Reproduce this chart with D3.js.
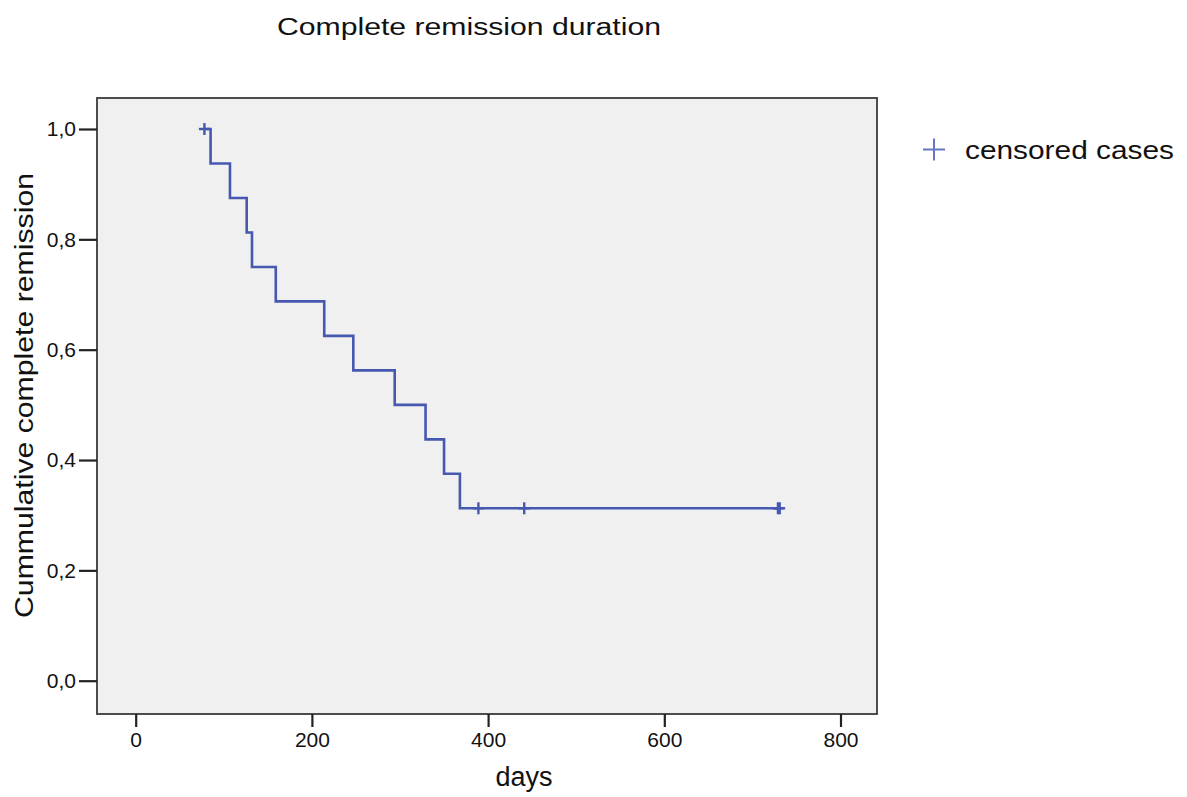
<!DOCTYPE html>
<meta charset="utf-8">
<style>
body {
  margin: 0;
  background: #fff;
  font-family: Arial, "Liberation Sans", Helvetica, sans-serif;
}
text {
  fill: #111;
}
</style>
<body>
<script src="https://cdn.jsdelivr.net/npm/d3@7/dist/d3.min.js"></script>
<script>

var width = 1187,
    height = 797;

// Kaplan-Meier estimate
var startDay = 78;
var eventDays = [85, 107, 126, 132, 159, 214, 247, 294, 329, 350, 368];
var survival  = [0.9375, 0.875, 0.8125, 0.75, 0.6875, 0.625, 0.5625, 0.5, 0.4375, 0.375, 0.3125];
var censoredDays = [78, 389, 441, 729, 731];
var censoredSurv = [1, 0.3125, 0.3125, 0.3125, 0.3125];
var lastDay = 731;

var xTicks = [0, 200, 400, 600, 800];
var yTicks = [0, 0.2, 0.4, 0.6, 0.8, 1.0];

var frame = {left: 97, top: 98, right: 877, bottom: 714};

var x = d3.scaleLinear()
    .domain([0, 800])
    .range([135.7, 840.5]);

var y = d3.scaleLinear()
    .domain([0, 1])
    .range([680.7, 129]);

var blue = "#4658b0";

var svg = d3.select("body").append("svg")
    .attr("width", width)
    .attr("height", height);

// plot background
svg.append("rect")
    .attr("x", frame.left)
    .attr("y", frame.top)
    .attr("width", frame.right - frame.left)
    .attr("height", frame.bottom - frame.top)
    .attr("fill", "#f0f0f0")
    .attr("stroke", "#3a3a3a")
    .attr("stroke-width", 1.8);

// axes
var fmt = function(d) { return d3.format(".1f")(d).replace(".", ","); };

var yAxis = svg.append("g")
    .attr("transform", "translate(" + frame.left + ",0)")
    .call(d3.axisLeft(y).tickValues(yTicks).tickFormat(fmt).tickSize(18).tickPadding(3));

var xAxis = svg.append("g")
    .attr("transform", "translate(0," + frame.bottom + ")")
    .call(d3.axisBottom(x).tickValues(xTicks).tickFormat(d3.format("d")).tickSize(13).tickPadding(5));

[yAxis, xAxis].forEach(function(g) {
  g.attr("font-size", 21).attr("font-family", "Arial, 'Liberation Sans', sans-serif");
  g.select(".domain").remove();
  g.selectAll(".tick line").attr("stroke", "#222").attr("stroke-width", 2.2);
  g.selectAll(".tick text").attr("fill", "#1a1a1a");
});

// step line
var pts = [[startDay, 1]];
eventDays.forEach(function(d, i) {
  pts.push([d, survival[i]]);
});
pts.push([lastDay, survival[survival.length - 1]]);

var line = d3.line()
    .x(function(d) { return x(d[0]); })
    .y(function(d) { return y(d[1]); })
    .curve(d3.curveStepAfter);

svg.append("path")
    .datum(pts)
    .attr("d", line)
    .attr("fill", "none")
    .attr("stroke", blue)
    .attr("stroke-width", 2.6);

// censored marks
var cens = svg.append("g")
    .attr("stroke", blue)
    .attr("stroke-width", 2.4);

censoredDays.forEach(function(d, i) {
  var cx = x(d), cy = y(censoredSurv[i]);
  cens.append("line").attr("x1", cx - 5.5).attr("x2", cx + 5.5).attr("y1", cy).attr("y2", cy);
  cens.append("line").attr("x1", cx).attr("x2", cx).attr("y1", cy - 6).attr("y2", cy + 6);
});

// titles
svg.append("text")
    .attr("x", 277)
    .attr("y", 34.5)
    .attr("font-size", 23.5)
    .attr("textLength", 384)
    .attr("lengthAdjust", "spacingAndGlyphs")
    .text("Complete remission duration");

svg.append("text")
    .attr("x", 524)
    .attr("y", 786)
    .attr("text-anchor", "middle")
    .attr("font-size", 27)
    .text("days");

svg.append("text")
    .attr("transform", "translate(32.5,395.5) rotate(-90)")
    .attr("text-anchor", "middle")
    .attr("font-size", 25)
    .attr("textLength", 445)
    .attr("lengthAdjust", "spacingAndGlyphs")
    .text("Cummulative complete remission");

// legend
var lg = svg.append("g")
    .attr("stroke", "#6677c2")
    .attr("stroke-width", 2);
lg.append("line").attr("x1", 923).attr("x2", 945).attr("y1", 149.5).attr("y2", 149.5);
lg.append("line").attr("x1", 934).attr("x2", 934).attr("y1", 138.5).attr("y2", 160.5);

svg.append("text")
    .attr("x", 965)
    .attr("y", 159)
    .attr("font-size", 25)
    .attr("textLength", 209)
    .attr("lengthAdjust", "spacingAndGlyphs")
    .text("censored cases");

</script>
